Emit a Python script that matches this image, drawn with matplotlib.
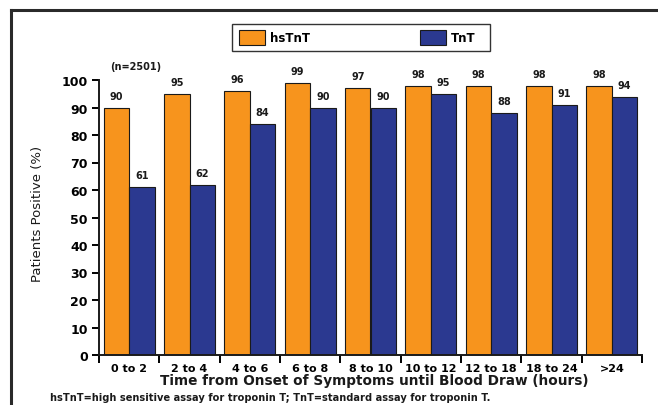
import matplotlib
matplotlib.use("Agg")
import matplotlib.pyplot as plt
from matplotlib.patches import Patch, Rectangle
from matplotlib.lines import Line2D
import numpy as np

categories = ["0 to 2", "2 to 4", "4 to 6", "6 to 8", "8 to 10", "10 to 12",
              "12 to 18", "18 to 24", ">24"]
hstnt = [90, 95, 96, 99, 97, 98, 98, 98, 98]
tnt = [61, 62, 84, 90, 90, 95, 88, 91, 94]
yticks = [0, 10, 20, 30, 40, 50, 60, 70, 80, 90, 100]

ORANGE = "#F7941D"
BLUE = "#2B3990"

plt.rcParams["font.family"] = ["DejaVu Sans"]

fig = plt.figure(figsize=(6.58, 4.06), dpi=100)
W, H = 658, 406
ax = fig.add_axes([99 / W, 1 - 356 / H, (642 - 99) / W, (356 - 81) / H])

x = np.arange(len(categories))
off, bw = 0.21, 0.42
b1 = ax.bar(x - off, hstnt, bw, color=ORANGE, edgecolor="#1a1a1a", linewidth=0.8)
b2 = ax.bar(x + off, tnt, bw, color=BLUE, edgecolor="#1a1a1a", linewidth=0.8)

for bars, vals in ((b1, hstnt), (b2, tnt)):
    for r, v in zip(bars, vals):
        ax.annotate(str(v), (r.get_x() + r.get_width() / 2, v), xytext=(0, 5),
                    textcoords="offset points", ha="center", va="bottom",
                    fontsize=7, fontweight="bold", color="#1a1a1a",
                    annotation_clip=False)

ax.text(0.1, 105.2, "(n=2501)", ha="center", va="center", fontsize=7,
        fontweight="bold", color="#1a1a1a", clip_on=False)

ax.set_xlim(-0.5, len(categories) - 0.5)
ax.set_ylim(0, 100)
ax.set_yticks(yticks)
ax.set_yticklabels([str(t) for t in yticks], fontsize=9, fontweight="bold")
ax.set_xticks(x)
ax.set_xticklabels(categories, fontsize=8, fontweight="bold")
ax.set_xticks(np.arange(len(categories) + 1) - 0.5, minor=True)
ax.tick_params(axis="x", which="major", length=0, pad=6)
ax.tick_params(axis="x", which="minor", length=6, width=1.4, direction="out")
ax.tick_params(axis="y", which="major", length=5, width=1.4, direction="out", pad=3)

for s in ("top", "right"):
    ax.spines[s].set_visible(False)
for s in ("left", "bottom"):
    ax.spines[s].set_linewidth(1.4)
    ax.spines[s].set_color("#1a1a1a")

ax.set_ylabel("Patients Positive (%)", fontsize=9.5, color="#1a1a1a", va="center")
ax.yaxis.set_label_coords((37.5 - 99) / (642 - 99), (356 - 214) / (356 - 81))
ax.set_xlabel("Time from Onset of Symptoms until Blood Draw (hours)",
              fontsize=9.8, fontweight="bold", color="#1a1a1a")
ax.xaxis.set_label_coords((374 - 99) / (642 - 99), -(381 - 356) / (356 - 81))
ax.xaxis.label.set_va("center")

fig.text(50 / W, 1 - 398 / H,
         "hsTnT=high sensitive assay for troponin T; TnT=standard assay for troponin T.",
         fontsize=7.1, fontweight="bold", color="#1a1a1a", va="center", ha="left")

# legend
fig.add_artist(Rectangle((232 / W, 1 - 52 / H), (490 - 232) / W, (52 - 25) / H,
                         transform=fig.transFigure, facecolor="white",
                         edgecolor="#333333", linewidth=1.0))
handles = [Patch(facecolor=ORANGE, edgecolor="#1a1a1a", linewidth=0.8),
           Patch(facecolor=BLUE, edgecolor="#1a1a1a", linewidth=0.8)]
leg = fig.legend(handles, ["hsTnT", "TnT"], loc="center", ncol=2,
                 mode="expand",
                 bbox_to_anchor=(239 / W, 1 - 52 / H, (476 - 239) / W, (52 - 25) / H),
                 prop={"size": 8.5, "weight": "bold"}, frameon=False,
                 handlelength=2.2, handleheight=1.6,
                 handletextpad=0.45, borderpad=0.0, borderaxespad=0)

# frame border (top and left)
fig.add_artist(Line2D([10.5 / W, 10.5 / W], [0, 1 - 11 / H], transform=fig.transFigure,
                      color="#2a2a2a", linewidth=2.2, solid_capstyle="projecting"))
fig.add_artist(Line2D([10.5 / W, 1], [1 - 11 / H, 1 - 11 / H], transform=fig.transFigure,
                      color="#2a2a2a", linewidth=2.2, solid_capstyle="projecting"))

fig.savefig("out.png", dpi=100)
